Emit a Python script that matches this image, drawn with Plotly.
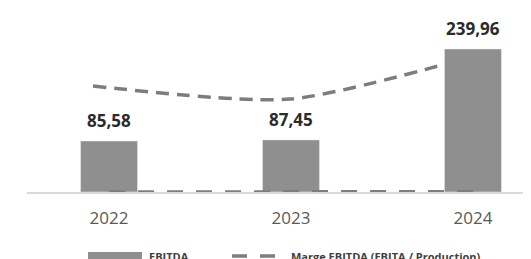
import plotly.graph_objects as go

annees = ["2022", "2023", "2024"]
ebitda = [85.58, 87.45, 239.96]
ebitda_labels = ["85,58", "87,45", "239,96"]
marge = [17.7, 15.5, 23.3]  # Marge EBITDA (%), estimée

OFF = 8                      # page body margin
W, H = 531 - OFF, 259 - OFF
ML, MB = 19, 67
PW, PH = W - ML, H - MB

def px_x(x):
    return (x - OFF - ML) / PW

def px_y(y):
    return (PH - (y - OFF)) / PH

BAR = "#8f8f8f"
LINE = "#7d7d7d"
FONT = "Open Sans"

fig = go.Figure()

# Margin line on its own (hidden) axes, drawn below the bars
fig.add_trace(go.Scatter(
    x=annees, y=marge, xaxis="x", yaxis="y", mode="lines",
    line=dict(color=LINE, width=3.5, dash="13px,8px", shape="spline", smoothing=0.7),
    showlegend=False, hoverinfo="skip"))

# Bars on the overlay axes
fig.add_trace(go.Bar(
    x=annees, y=ebitda, xaxis="x2", yaxis="y2", marker_color=BAR,
    width=0.313, showlegend=False))

# Margin ratio on the EBITDA axis (stays near zero)
fig.add_trace(go.Scatter(
    x=annees, y=[m / 100 for m in marge], xaxis="x2", yaxis="y2", mode="lines",
    line=dict(color=LINE, width=3.5, dash="16px,13px"), cliponaxis=False,
    showlegend=False, hoverinfo="skip"))

for i, (v, t) in enumerate(zip(ebitda, ebitda_labels)):
    fig.add_annotation(x=i, y=v, xref="x2", yref="y2", text=t, showarrow=False,
                       yanchor="middle", yshift=20,
                       font=dict(family=FONT, size=17, color="#2b2b2b", weight="bold"))

# Custom legend
fig.add_shape(type="rect", xref="paper", yref="paper",
              x0=px_x(88), x1=px_x(142), y0=px_y(262), y1=px_y(252),
              fillcolor=BAR, line_width=0)
fig.add_annotation(xref="paper", yref="paper", x=px_x(147), y=px_y(256),
                   xanchor="left", yanchor="middle", showarrow=False, text="EBITDA",
                   font=dict(family=FONT, size=11, color="#404040", weight="bold"))
fig.add_shape(type="line", xref="paper", yref="paper",
              x0=px_x(232), x1=px_x(278), y0=px_y(256), y1=px_y(256),
              line=dict(color=LINE, width=3.5, dash="15px,13px"))
fig.add_annotation(xref="paper", yref="paper", x=px_x(289), y=px_y(256),
                   xanchor="left", yanchor="middle", showarrow=False,
                   text="Marge EBITDA (EBITA / Production)",
                   font=dict(family=FONT, size=11, color="#404040", weight="bold"))

fig.update_layout(
    width=W, height=H,
    margin=dict(l=ML, r=0, t=0, b=MB),
    paper_bgcolor="white", plot_bgcolor="white",
    xaxis=dict(type="category", range=[-0.335, 2.223], visible=False),
    yaxis=dict(range=[0, 30.7], visible=False),
    xaxis2=dict(type="category", overlaying="x", range=[-0.451, 2.319],
                showline=True, linecolor="#d9d9d9", linewidth=1.5,
                ticks="", ticklabelstandoff=10, showgrid=False, zeroline=False,
                tickfont=dict(family=FONT, size=17, color="#595959")),
    yaxis2=dict(overlaying="y", range=[0, 308.7], visible=False, showgrid=False),
    font=dict(family=FONT),
)

fig.write_html("out.html")
